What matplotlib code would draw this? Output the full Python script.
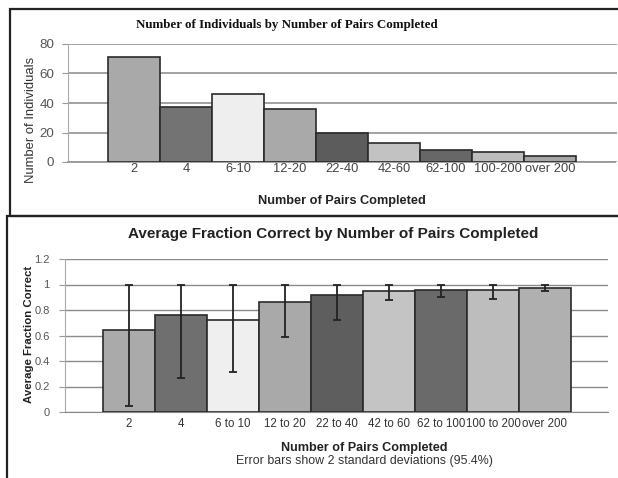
import matplotlib
matplotlib.use('Agg')
import matplotlib.pyplot as plt
from matplotlib.patches import Rectangle
import numpy as np

# ---------------- data ----------------
top_categories = ['2', '4', '6-10', '12-20', '22-40', '42-60', '62-100', '100-200', 'over 200']
top_counts = [71, 37, 46, 36, 20, 13, 8, 7, 4]

bottom_categories = ['2', '4', '6 to 10', '12 to 20', '22 to 40', '42 to 60',
                     '62 to 100', '100 to 200', 'over 200']
avg_fraction = [0.64, 0.76, 0.72, 0.86, 0.92, 0.95, 0.955, 0.955, 0.975]
err_low = [0.05, 0.27, 0.31, 0.59, 0.72, 0.88, 0.90, 0.89, 0.95]
err_high = [1.0, 1.0, 1.0, 1.0, 1.0, 1.0, 1.0, 1.0, 1.0]

top_colors = ['#a9a9a9', '#737373', '#eeeeee', '#a9a9a9', '#5c5c5c',
              '#c2c2c2', '#676767', '#bdbdbd', '#a6a6a6']
bottom_colors = ['#aaaaaa', '#6f6f6f', '#efefef', '#a9a9a9', '#5e5e5e',
                 '#c4c4c4', '#6a6a6a', '#bdbdbd', '#b0b0b0']

# ---------------- layout helpers ----------------
W, H = 618, 478
plt.rcParams['font.family'] = ['Liberation Sans', 'DejaVu Sans']
fig = plt.figure(figsize=(W / 100, H / 100), dpi=100)


def fx(px):
    return px / W


def fy(py):
    return 1 - py / H


# panel frames
fig.patches.append(Rectangle((fx(10), fy(216)), 1.0, (216 - 9) / H,
                             transform=fig.transFigure, fill=False,
                             edgecolor='#222222', lw=1.6, zorder=0))
fig.patches.append(Rectangle((fx(7), fy(485)), 1.0, (485 - 216) / H,
                             transform=fig.transFigure, fill=False,
                             edgecolor='#222222', lw=1.6, zorder=0))

# ---------------- top chart ----------------
ax1 = fig.add_axes([fx(68), fy(162), fx(617 - 68), (162 - 44) / H])
x1 = np.arange(len(top_categories))
ax1.bar(x1, top_counts, width=1.0, color=top_colors, edgecolor='#2a2a2a',
        linewidth=1.2, zorder=3)
ax1.set_xlim(-1.269, 9.288)
ax1.set_ylim(0, 80)
ax1.set_yticks([0, 20, 40, 60, 80])
ax1.yaxis.grid(True, color='#9a9a9a', lw=1.3)
ax1.set_axisbelow(True)
for s in ['top', 'right']:
    ax1.spines[s].set_visible(False)
ax1.spines['left'].set_color('#aaaaaa')
ax1.spines['bottom'].set_color('#999999')
ax1.spines['bottom'].set_linewidth(1.3)
ax1.spines['bottom'].set_bounds(-1.269, 9.25)
ax1.set_xticks(x1)
ax1.set_xticklabels(top_categories)
ax1.tick_params(axis='x', length=0, pad=1, labelsize=9.3, labelcolor='#444444')
ax1.tick_params(axis='y', length=4, color='#999999', pad=6, labelsize=9.6,
                labelcolor='#555555')

fig.text(fx(287), fy(25), 'Number of Individuals by Number of Pairs Completed',
         family=['Liberation Serif', 'DejaVu Serif'], weight='bold', size=9.4,
         ha='center', va='center', color='#111111')
fig.text(fx(31), fy(120), 'Number of Individuals', rotation=90, size=9.4,
         ha='center', va='center', color='#333333')
fig.text(fx(342), fy(201), 'Number of Pairs Completed', weight='bold', size=9.2,
         ha='center', va='center', color='#222222')

# ---------------- bottom chart ----------------
ax2 = fig.add_axes([fx(65), fy(412), fx(608 - 65), (412 - 259) / H])
x2 = np.arange(len(bottom_categories))
ax2.bar(x2, avg_fraction, width=1.0, color=bottom_colors, edgecolor='#2a2a2a',
        linewidth=1.2, zorder=3)
avg = np.array(avg_fraction)
yerr = [avg - np.array(err_low), np.array(err_high) - avg]
ax2.errorbar(x2, avg, yerr=yerr, fmt='none', ecolor='#222222', elinewidth=1.3,
             capsize=3, capthick=1.3, zorder=4)
ax2.set_xlim(-1.231, 9.212)
ax2.set_ylim(0, 1.2)
ax2.set_yticks([0, 0.2, 0.4, 0.6, 0.8, 1, 1.2])
ax2.set_yticklabels(['0', '0.2', '0.4', '0.6', '0.8', '1', '1.2'])
ax2.yaxis.grid(True, color='#8a8a8a', lw=1.0)
ax2.set_axisbelow(True)
for s in ['top', 'right']:
    ax2.spines[s].set_visible(False)
ax2.spines['left'].set_color('#aaaaaa')
ax2.spines['bottom'].set_color('#888888')
ax2.set_xticks(x2)
ax2.set_xticklabels(bottom_categories)
ax2.tick_params(axis='x', length=0, pad=4, labelsize=8.3, labelcolor='#333333')
ax2.tick_params(axis='y', length=4, color='#999999', pad=7, labelsize=8.0,
                labelcolor='#555555')

fig.text(fx(333), fy(234), 'Average Fraction Correct by Number of Pairs Completed',
         weight='bold', size=11, ha='center', va='center', color='#222222')
fig.text(fx(29), fy(334), 'Average Fraction Correct', rotation=90, weight='bold',
         size=8.2, ha='center', va='center', color='#222222')
fig.text(fx(364), fy(448), 'Number of Pairs Completed', weight='bold', size=9.1,
         ha='center', va='center', color='#222222')
fig.text(fx(364), fy(461), 'Error bars show 2 standard deviations (95.4%)',
         size=8.9, ha='center', va='center', color='#333333')

fig.savefig('out.png', dpi=100)
